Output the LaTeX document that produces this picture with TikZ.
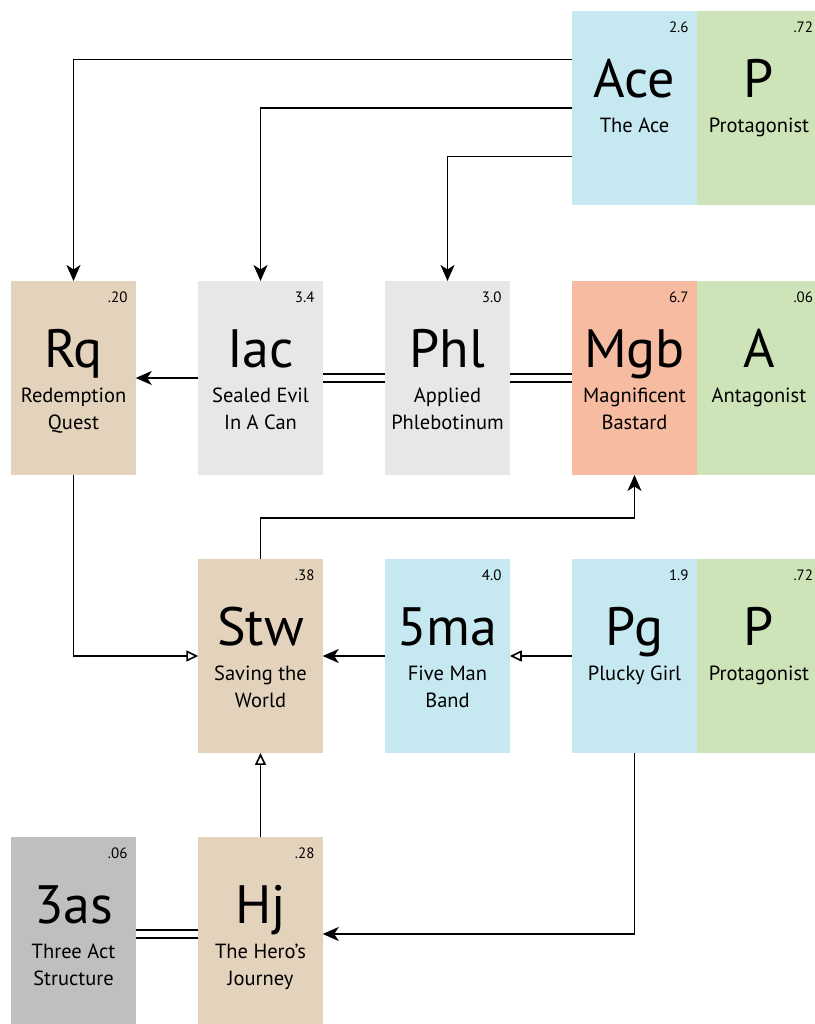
\documentclass[tikz,border=0pt]{standalone}
\usepackage{fontspec}
\setmainfont{PT Sans}
\usetikzlibrary{arrows.meta,positioning,calc}

\definecolor{tileTan}{RGB}{228,211,188}
\definecolor{tileGrey}{RGB}{230,231,232}
\definecolor{tileDark}{RGB}{190,191,193}
\definecolor{tileSalmon}{RGB}{247,187,162}
\definecolor{tileBlue}{RGB}{198,232,240}
\definecolor{tileGreen}{RGB}{205,227,184}

\begin{document}
\begin{tikzpicture}[x=1pt, y=1pt,
    cell/.style={minimum width=124.5, minimum height=194, inner sep=0, outer sep=0},
    num/.style={anchor=base east, xshift=-8, yshift=-22, inner sep=0, font=\fontsize{15}{15}\selectfont},
    sym/.style={anchor=base, yshift=-87, inner sep=0, font=\fontsize{54}{54}\selectfont},
    lbl/.style={anchor=north, yshift=-107, inner sep=0, align=center, font=\fontsize{20.5}{27}\selectfont},
    arr/.style={-{Stealth[length=16pt, width=14pt, inset=4.5pt]}, line width=1.6},
    inh/.style={-{Triangle[open, length=12pt, width=11pt]}, line width=1.6},
    dbl/.style={double, double distance=6.5pt, line width=1.5}
]
\useasboundingbox (0,0) rectangle (814,1024);

% first row
\node[cell, fill=tileBlue, label={[num]north east:2.6}, label={[sym]north:Ace}, label={[lbl]north:The Ace}] (ace) at (634.5,916) {};
\node[cell, fill=tileGreen, label={[num]north east:.72}, label={[sym]north:P}, label={[lbl]north:Protagonist}] (acep) at (759,916) {};

% second row
\node[cell, fill=tileTan, label={[num]north east:.20}, label={[sym]north:Rq}, label={[lbl]north:Redemption\\Quest}] (rq) at (73.5,646) {};
\node[cell, fill=tileGrey, label={[num]north east:3.4}, label={[sym]north:Iac}, label={[lbl]north:Sealed Evil\\In A Can}] (iac) at (260.5,646) {};
\node[cell, fill=tileGrey, label={[num]north east:3.0}, label={[sym]north:Phl}, label={[lbl]north:Applied\\Phlebotinum}] (phl) at (447.5,646) {};
\node[cell, fill=tileSalmon, label={[num]north east:6.7}, label={[sym]north:Mgb}, label={[lbl]north:Magnificent\\Bastard}] (mgb) at (634.5,646) {};
\node[cell, fill=tileGreen, label={[num]north east:.06}, label={[sym]north:A}, label={[lbl]north:Antagonist}] (mgba) at (759,646) {};

% third row
\node[cell, fill=tileTan, label={[num]north east:.38}, label={[sym]north:Stw}, label={[lbl]north:Saving the\\World}] (stw) at (260.5,368) {};
\node[cell, fill=tileBlue, label={[num]north east:4.0}, label={[sym]north:5ma}, label={[lbl]north:Five Man\\Band}] (fma) at (447.5,368) {};
\node[cell, fill=tileBlue, label={[num]north east:1.9}, label={[sym]north:Pg}, label={[lbl]north:Plucky Girl}] (pg) at (634.5,368) {};
\node[cell, fill=tileGreen, label={[num]north east:.72}, label={[sym]north:P}, label={[lbl]north:Protagonist}] (pgp) at (759,368) {};

% fourth row
\node[cell, fill=tileDark, label={[num]north east:.06}, label={[sym]north:3as}, label={[lbl]north:Three Act\\Structure}] (tas) at (73.5,90) {};
\node[cell, fill=tileTan, label={[num]north east:.28}, label={[sym]north:Hj}, label={[lbl]north:The Hero's\\Journey}] (hj) at (260.5,90) {};

% links
\draw[arr] ($(ace.north west)!.25!(ace.south west)$) -| (rq.north);
\draw[arr] (ace.west) -| (iac.north);
\draw[arr] ($(ace.north west)!.75!(ace.south west)$) -| (phl.north);
\draw[arr] (iac) -- (rq);
\draw[dbl] (iac) -- (phl);
\draw[dbl] (phl) -- (mgb);
\draw[inh] (rq.south) |- (stw.west);
\draw[arr] (stw.north) -- ++(0,41) -| (mgb.south);
\draw[arr] (fma) -- (stw);
\draw[inh] (pg) -- (fma);
\draw[arr] (pg.south) |- (hj.east);
\draw[inh] (hj) -- (stw);
\draw[dbl] (tas) -- (hj);
\end{tikzpicture}
\end{document}
